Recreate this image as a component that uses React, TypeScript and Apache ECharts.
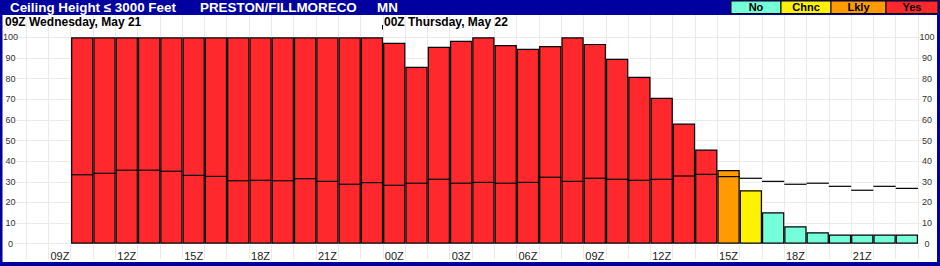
import { useEffect, useRef } from "react";
import * as echarts from "echarts";

const HOURS = [
  "08Z", "09Z", "10Z", "11Z", "12Z", "13Z", "14Z", "15Z", "16Z", "17Z",
  "18Z", "19Z", "20Z", "21Z", "22Z", "23Z", "00Z", "01Z", "02Z", "03Z",
  "04Z", "05Z", "06Z", "07Z", "08Z", "09Z", "10Z", "11Z", "12Z", "13Z",
  "14Z", "15Z", "16Z", "17Z", "18Z", "19Z", "20Z", "21Z", "22Z", "23Z",
];

// Probability of ceiling height <= 3000 ft (bar tops)
const MAIN: (number | null)[] = [
  null, null, 100, 100, 100, 100, 100, 100, 100, 100,
  100, 100, 100, 100, 100, 100, 97.3, 85.7, 95.4, 98.3,
  100, 96.3, 94.4, 95.8, 100, 96.8, 89.6, 80.9, 70.7, 58.2,
  45.6, 35.7, 25.9, 15.2, 8.4, 5.5, 4.4, 4.4, 4.4, 4.4,
];

// Secondary horizontal marks
const LOW: (number | null)[] = [
  null, null, 33.4, 34.1, 35.6, 35.6, 35.1, 33.1, 32.6, 30.5,
  30.7, 30.5, 31.5, 30.2, 28.8, 29.6, 28.3, 29.3, 31.2, 29.3,
  29.7, 29.3, 29.7, 32.2, 30.2, 31.7, 31.2, 30.7, 31.2, 32.8,
  33.6, 32.5, 31.7, 30.2, 28.8, 29.3, 27.8, 25.9, 27.8, 26.8,
];

const LEGEND = ["No", "Chnc", "Lkly", "Yes"];
const LEGEND_COLORS = ["#74FFDA", "#FFF200", "#FF9A00", "#FF282D"];
const THRESHOLDS = [20, 30, 40];

const FONT = '"Liberation Sans", Arial, sans-serif';
const GRID_COLOR = "#EAEAEA";

function classFor(v: number): number {
  let c = 0;
  THRESHOLDS.forEach((t) => {
    if (v >= t) c++;
  });
  return c;
}

function txt(text: string, x: number, y: number, font: string, fill: string, align = "left") {
  return {
    type: "text",
    x,
    y,
    z: 110,
    style: {
      text,
      font,
      fill,
      align,
      verticalAlign: "middle",
      textAlign: align,
      textVerticalAlign: "middle",
    },
  };
}

export default function App() {
  const ref = useRef<HTMLDivElement>(null);

  useEffect(() => {
    document.body.style.margin = "0";
    if (!ref.current) return;
    const chart = echarts.init(ref.current, undefined, { renderer: "svg" });

    const legendBoxes = [
      [731, 781],
      [781, 831],
      [831, 886],
      [886, 938],
    ];

    const graphic: any[] = [
      { type: "rect", z: 100, shape: { x: 0, y: 0, width: 940, height: 15 }, style: { fill: "#0000A0" } },
      { type: "rect", z: 100, shape: { x: 0, y: 0, width: 2.5, height: 266 }, style: { fill: "#0000A0" } },
      { type: "rect", z: 100, shape: { x: 937, y: 0, width: 3, height: 266 }, style: { fill: "#0000A0" } },
      { type: "rect", z: 100, shape: { x: 0, y: 262, width: 940, height: 4 }, style: { fill: "#0000A0" } },
      txt("Ceiling Height ≤ 3000 Feet", 10, 7.5, `bold 13.4px ${FONT}`, "#fff"),
      txt("PRESTON/FILLMORECO", 200, 7.5, `bold 13.4px ${FONT}`, "#fff"),
      txt("MN", 377, 7.5, `bold 13.4px ${FONT}`, "#fff"),
      txt("09Z Wednesday, May 21", 5, 21.5, `bold 12px ${FONT}`, "#000"),
      txt("00Z Thursday, May 22", 384, 21.5, `bold 12px ${FONT}`, "#000"),
      {
        type: "line",
        z: 110,
        shape: { x1: 382.5, y1: 25, x2: 382.5, y2: 29.5 },
        style: { stroke: "#000", lineWidth: 1 },
      },
    ];
    LEGEND.forEach((name, i) => {
      const [a, b] = legendBoxes[i];
      graphic.push({
        type: "rect",
        z: 105,
        shape: { x: a, y: 1, width: b - a, height: 12.5 },
        style: { fill: LEGEND_COLORS[i], stroke: "#000", lineWidth: 1 },
      });
      graphic.push(txt(name, (a + b) / 2, 7.4, `bold 11px ${FONT}`, "#000", "center"));
    });

    const barData = MAIN.map((v) =>
      v == null ? "-" : { value: v, itemStyle: { color: LEGEND_COLORS[classFor(v)] } }
    );
    const lowData = LOW.map((v, i) => (v == null ? null : [i, v])).filter((d) => d != null);

    const option: any = {
      animation: false,
      backgroundColor: "#fff",
      grid: [
        { left: 26, right: 22, top: 15, bottom: 7 },
        { left: 15, right: 19, top: 37.3, bottom: 22.3 },
        { left: 26, right: 22, top: 37.3, bottom: 22.3 },
      ],
      xAxis: [
        {
          gridIndex: 0,
          type: "category",
          data: HOURS,
          boundaryGap: true,
          axisLine: { show: false },
          axisTick: { show: false },
          axisLabel: { show: false },
          splitLine: { show: true, interval: 0, lineStyle: { color: GRID_COLOR, width: 1 } },
        },
        { gridIndex: 1, type: "value", show: false },
        {
          gridIndex: 2,
          type: "category",
          data: HOURS,
          boundaryGap: true,
          axisLine: { show: false },
          axisTick: { show: false },
          splitLine: { show: false },
          axisLabel: {
            interval: (i: number) => i % 3 === 1,
            fontSize: 11,
            color: "#222",
            margin: 7,
            fontFamily: FONT,
          },
        },
      ],
      yAxis: [
        { gridIndex: 0, type: "value", show: false },
        {
          gridIndex: 1,
          type: "value",
          min: 0,
          max: 100,
          interval: 10,
          axisLabel: { show: false },
          axisLine: { show: false },
          axisTick: { show: false },
          splitLine: { show: true, lineStyle: { color: GRID_COLOR, width: 1 } },
        },
        {
          gridIndex: 2,
          type: "value",
          position: "left",
          min: 0,
          max: 100,
          interval: 10,
          axisLine: { show: false },
          axisTick: { show: false },
          splitLine: { show: false },
          axisLabel: { fontSize: 9, color: "#333", align: "center", margin: 16, fontFamily: FONT },
        },
        {
          gridIndex: 2,
          type: "value",
          position: "right",
          min: 0,
          max: 100,
          interval: 10,
          axisLine: { show: false },
          axisTick: { show: false },
          splitLine: { show: false },
          axisLabel: { fontSize: 9, color: "#333", align: "center", margin: 9, fontFamily: FONT },
        },
      ],
      series: [
        {
          type: "bar",
          xAxisIndex: 2,
          yAxisIndex: 2,
          data: barData,
          barCategoryGap: "0%",
          barGap: "0%",
          itemStyle: { borderColor: "#000", borderWidth: 1.2 },
        },
        {
          type: "custom",
          xAxisIndex: 2,
          yAxisIndex: 2,
          z: 4,
          data: lowData,
          renderItem: (params: any, api: any) => {
            const p = api.coord([api.value(0), api.value(1)]);
            const w = api.size([1, 0])[0];
            return {
              type: "line",
              shape: { x1: p[0] - w / 2, y1: p[1], x2: p[0] + w / 2, y2: p[1] },
              style: { stroke: "#000", lineWidth: 1.2 },
            };
          },
        },
      ],
      graphic,
    };

    chart.setOption(option);
    return () => chart.dispose();
  }, []);

  return (
    <div
      ref={ref}
      style={{ position: "absolute", left: 0, top: 0, width: 940, height: 266 }}
    />
  );
}
